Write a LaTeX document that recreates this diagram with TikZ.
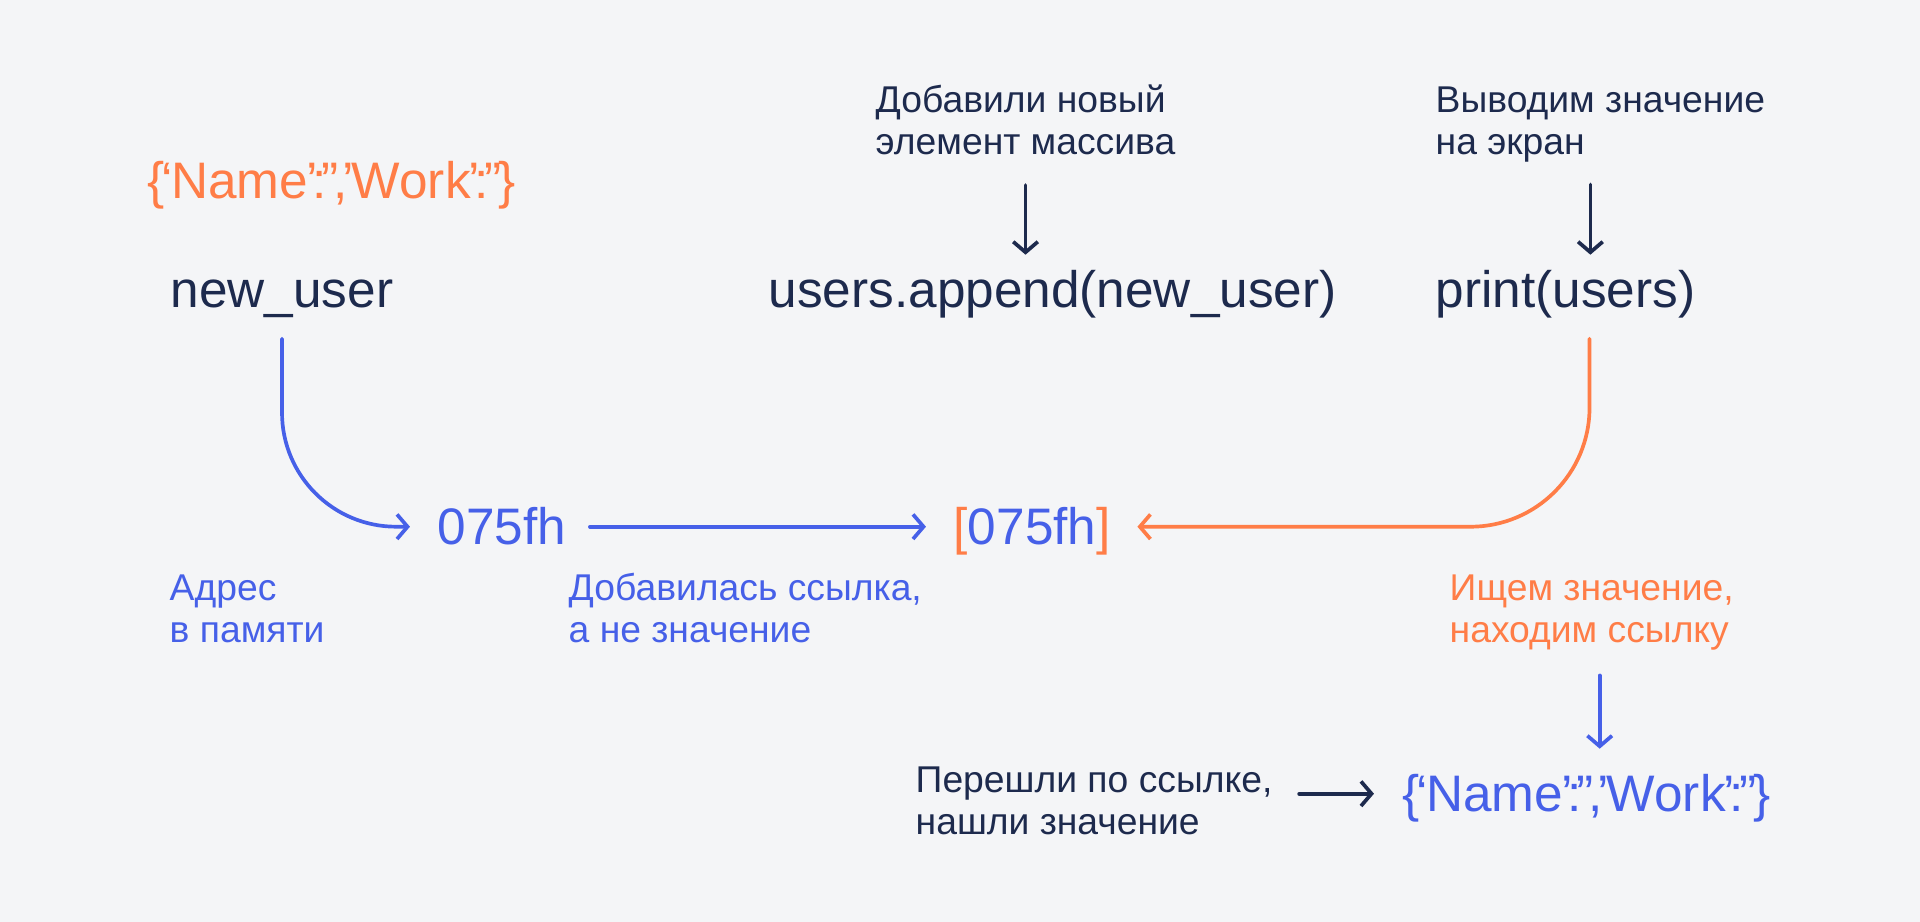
\documentclass[tikz,border=0pt]{standalone}
\usepackage{fontspec}
\setmainfont{Liberation Sans}
\usetikzlibrary{arrows.meta}

\definecolor{navy}{HTML}{1D2A4D}
\definecolor{refblue}{HTML}{4660E8}
\definecolor{reforange}{HTML}{FF7D47}
\definecolor{paper}{HTML}{F4F5F7}

% dict value, with tighter punctuation
\newcommand{\valtext}{\{\kern-.06em‘\kern-.04em Name\kern-.04em’\kern-.1em:\kern-.1em”\kern-.1em,\kern-.1em’\kern-.04em Work\kern-.04em’\kern-.1em:\kern-.1em”\kern-.06em\}}

\begin{document}
\begin{tikzpicture}[x=0.01cm, y=-0.01cm,
    code/.style={font=\fontsize{14.6}{17}\selectfont, inner sep=0pt, anchor=base west,
                 text height=10.4pt, text depth=0pt},
    note/.style={font=\fontsize{10.6}{12}\selectfont, inner sep=0pt, anchor=base west, align=left},
    link/.style={line width=1.05pt, line cap=round, -{Straight Barb[length=3pt,width=7pt]}}]
   \path[use as bounding box, fill=paper] (0,0) rectangle (1920,922);

   % top row: code (labels are placed by their last line)
   \node[code, reforange] (objtop) at (147,199) {\valtext};
   \node[code, navy] (newuser) at (170,308) {new\_user};
   \node[code, navy] (append) at (768,308) {users.append(new\_user)};
   \node[code, navy] (print) at (1435,308) {print(users)};

   \node[note, navy] (addlbl) at (875,155) {Добавили новый\\элемент массива};
   \node[note, navy] (printlbl) at (1435,155) {Выводим значение\\на экран};

   % middle row
   \node[code, refblue] (addr) at (437,545) {075fh};
   \node[code, refblue] (arrbox) at (953,545) {{\color{reforange}[}075fh{\color{reforange}]}};

   \node[note, refblue] (addrlbl) at (169,643) {Адрес\\в памяти};
   \node[note, refblue] (addedlbl) at (568,643) {Добавилась ссылка,\\а не значение};
   \node[note, reforange] (findlbl) at (1449,643) {Ищем значение,\\находим ссылку};

   % bottom row
   \node[note, navy] (jumplbl) at (915,835) {Перешли по ссылке,\\нашли значение};
   \node[code, refblue] (objbot) at (1402,812) {\valtext};

   \draw[link, navy, shorten <=0.29cm, shorten >=0.16cm] (addlbl.south) -- (addlbl.south |- append.north);
   \draw[link, navy, shorten <=0.21cm, shorten >=0.16cm] ([xshift=-0.1cm]printlbl.south) -- ([xshift=-0.1cm]printlbl.south |- print.north);

   \draw[link, refblue, rounded corners=1.14cm, shorten <=0.3cm, shorten >=0.27cm] (newuser.south) |- (addr.west);
   \draw[link, refblue, shorten <=0.23cm, shorten >=0.27cm] (addr.east) -- (arrbox.west);
   \draw[link, reforange, rounded corners=1.19cm, shorten <=0.3cm, shorten >=0.26cm] ([xshift=0.24cm]print.south) |- (arrbox.east);

   \draw[link, refblue, shorten <=0.24cm, shorten >=0.26cm] ([xshift=0.08cm]findlbl.south) -- ([xshift=0.08cm]findlbl.south |- objbot.north);
   \draw[link, navy, shorten <=0.26cm, shorten >=0.28cm] (jumplbl.east |- objbot.west) -- (objbot.west);
\end{tikzpicture}
\end{document}
